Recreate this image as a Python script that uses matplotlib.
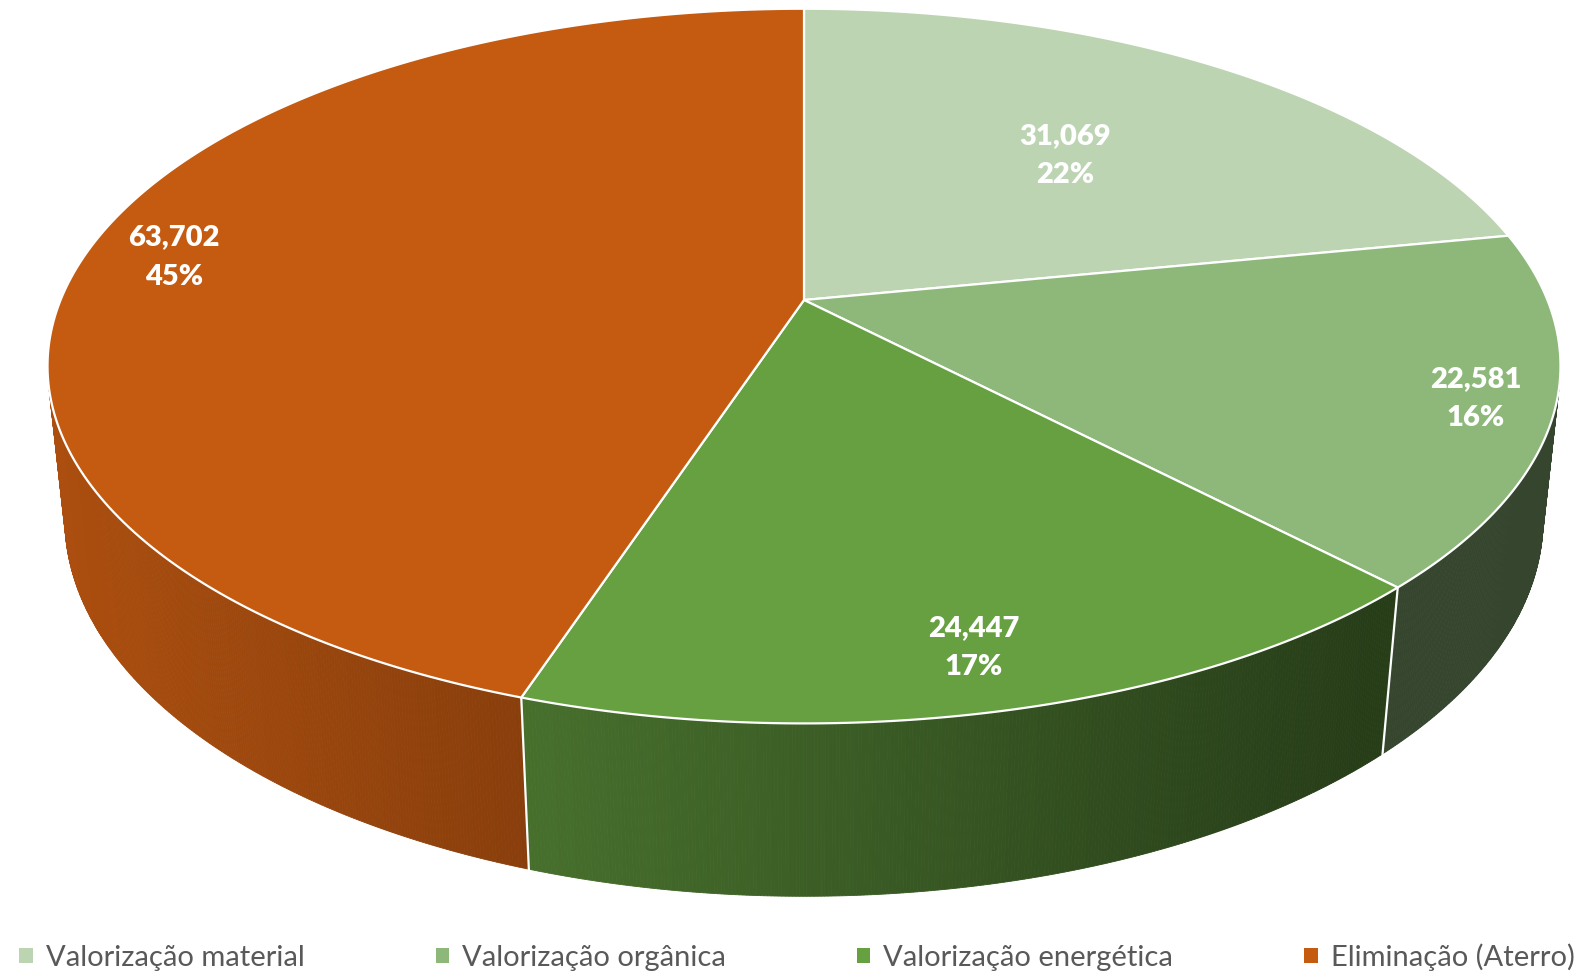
import numpy as np
import matplotlib
matplotlib.use("Agg")
import matplotlib.pyplot as plt
from matplotlib.patches import Patch

# ---- data ----
categories = ["Valorização material", "Valorização orgânica",
              "Valorização energética", "Eliminação (Aterro)"]
values = [31069, 22581, 24447, 63702]
colors = ["#BDD4B3", "#8DB87A", "#66A040", "#C55A11"]

# ---- layout / style ----
W, H = 1583, 977
ELEV = np.radians(27.66)
DIST = 4.79
FOC = 3561.0
THICK = 0.2346
CX, CY = 804.0, 300.0
label_r = [0.6, 0.9, 0.87, 0.88]
label_dy = [3, 0, 0, 4]
FONT = "Lato"

fig = plt.figure(figsize=(W / 100, H / 100), dpi=100)
ax = fig.add_axes([0, 0, 1, 1])
ax.set_xlim(0, W)
ax.set_ylim(H, 0)
ax.axis("off")

ce, se = np.cos(ELEV), np.sin(ELEV)


def proj(x, y, z):
    up = z * ce + y * se
    depth = y * ce - z * se + DIST
    return CX + FOC * x / depth, CY - FOC * up / depth


def rim(phi, r=1.0, z=0.0):
    return proj(r * np.sin(phi), r * np.cos(phi), z)


vals = np.array(values, dtype=float)
total = vals.sum()
fr = vals / total
bounds = np.concatenate([[0], np.cumsum(fr)]) * 2 * np.pi


def shade(hex_color, f):
    c = np.array(matplotlib.colors.to_rgb(hex_color))
    return tuple(np.clip(c * f, 0, 1))


# ---- side walls (visible front part) ----
ny_lim = -1.0 / (DIST * ce)
for i in range(len(values)):
    a0, a1 = bounds[i], bounds[i + 1]
    phis = np.linspace(a0, a1, max(int((a1 - a0) / 0.004), 2))
    for p0, p1 in zip(phis[:-1], phis[1:]):
        pm = 0.5 * (p0 + p1)
        if np.cos(pm) >= ny_lim:
            continue
        x0t, y0t = rim(p0)
        x1t, y1t = rim(p1)
        x0b, y0b = rim(p0, z=-THICK)
        x1b, y1b = rim(p1, z=-THICK)
        xm = 0.5 * (x0t + x1t)
        f = np.clip(0.87 - 0.00037 * (xm - 50), 0.38, 1.0)
        col = shade(colors[i], f)
        ax.fill([x0t, x1t, x1b, x0b], [y0t, y1t, y1b, y0b],
                facecolor=col, edgecolor=col, lw=0.6, zorder=1)

# white vertical seams at slice boundaries on the visible wall
for b in bounds[:-1]:
    if np.cos(b) < ny_lim:
        xt, yt = rim(b)
        xb, yb = rim(b, z=-THICK)
        ax.plot([xt, xb], [yt, yb], color="white", lw=1.6, zorder=2)

# ---- top faces ----
cxp, cyp = proj(0, 0, 0)
for i in range(len(values)):
    phis = np.linspace(bounds[i], bounds[i + 1], 200)
    xs, ys = rim(phis)
    xs = np.concatenate([[cxp], xs, [cxp]])
    ys = np.concatenate([[cyp], ys, [cyp]])
    ax.fill(xs, ys, facecolor=colors[i], edgecolor="white", lw=1.6,
            joinstyle="round", zorder=3)

# ---- data labels ----
for i, v in enumerate(values):
    mid = 0.5 * (bounds[i] + bounds[i + 1])
    lx, ly = rim(mid, r=label_r[i])
    pct = int(round(100 * v / total))
    ax.text(lx, ly + label_dy[i], f"{v:,}\n{pct}%", ha="center", va="center",
            color="white", fontsize=21, fontweight="heavy", family=FONT,
            linespacing=1.63, zorder=5)

# ---- legend ----
handles = [Patch(facecolor=c, edgecolor="none") for c in colors]
leg = ax.legend(handles, categories, loc="center", bbox_to_anchor=(797 / W, 1 - 957 / H),
                ncol=4, frameon=False, handlelength=0.45, handleheight=0.45,
                handletextpad=0.45, columnspacing=4.5,
                prop={"family": FONT, "size": 21})
for t in leg.get_texts():
    t.set_color("#595959")

fig.savefig("out.png", dpi=100, facecolor="white")
